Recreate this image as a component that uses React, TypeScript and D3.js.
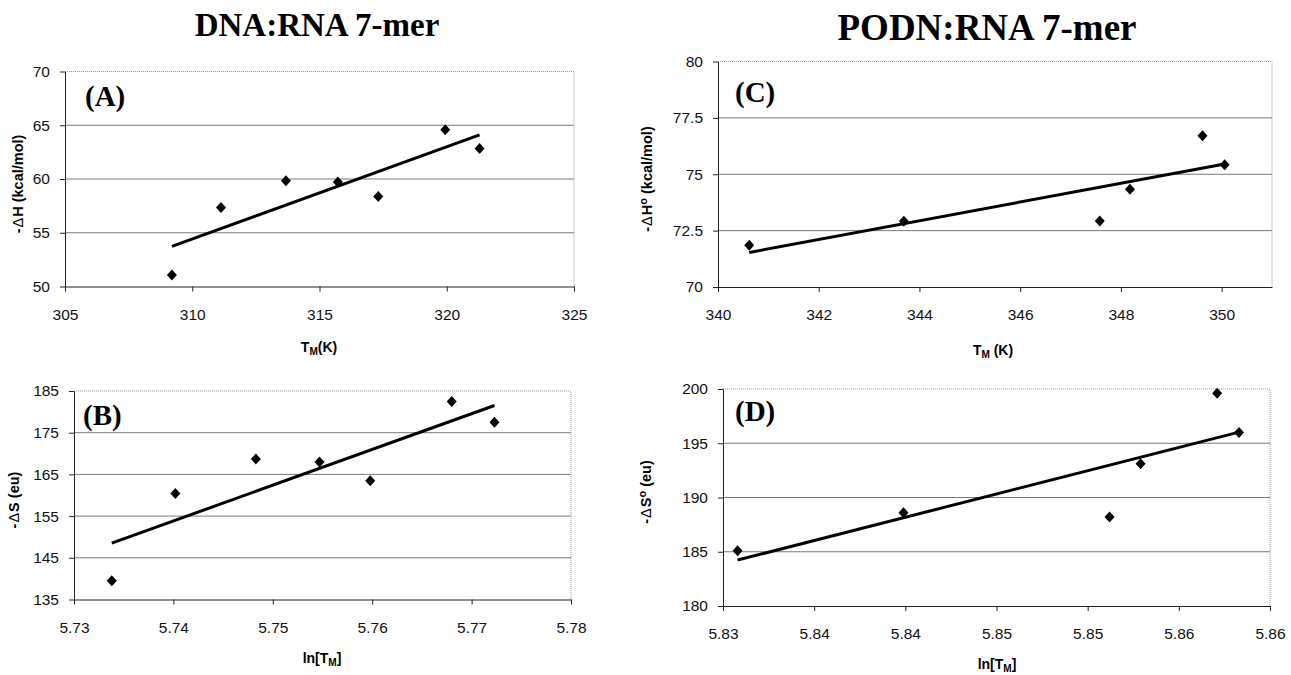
import * as d3 from 'd3';
import { useEffect, useRef } from 'react';

// DNA:RNA 7-mer
const dnaTm = [309.2, 311.13, 313.68, 315.72, 317.31, 319.94, 321.29];
const dnaDH = [51.06, 57.35, 59.83, 59.71, 58.37, 64.58, 62.84];
const dnaLnTm = [5.7338, 5.7402, 5.7483, 5.7547, 5.7598, 5.768, 5.7723];
const dnaDS = [139.5, 160.4, 168.7, 168.0, 163.5, 182.5, 177.5];

// PODN:RNA 7-mer
const podnTm = [340.62, 343.69, 347.58, 348.18, 349.62, 350.06];
const podnDH = [71.85, 72.92, 72.93, 74.34, 76.71, 75.42];
const podnLnTm = [5.8308, 5.8399, 5.8512, 5.8529, 5.8571, 5.8583];
const podnDS = [185.1, 188.6, 188.2, 193.1, 199.6, 196.0];

// axis ticks
const ticksAx = [305, 310, 315, 320, 325];
const ticksAy = [50, 55, 60, 65, 70];
const ticksBx = [5.73, 5.74, 5.75, 5.76, 5.77, 5.78];
const ticksBy = [135, 145, 155, 165, 175, 185];
const ticksCx = [340, 342, 344, 346, 348, 350];
const ticksCy = [70, 72.5, 75, 77.5, 80];
const ticksDx = [5.83, 5.835, 5.84, 5.845, 5.85, 5.855, 5.86];
const labelsDx = ['5.83', '5.84', '5.84', '5.85', '5.85', '5.86', '5.86'];
const ticksDy = [180, 185, 190, 195, 200];

const sans = 'Liberation Sans, Arial, sans-serif';
const serif = 'Liberation Serif, Times New Roman, serif';

// least squares trendline, like Excel's linear trendline
function fit(xs: number[], ys: number[]) {
    const mx = d3.mean(xs)!;
    const my = d3.mean(ys)!;
    const sxy = d3.sum(xs, (x, i) => (x - mx) * (ys[i] - my));
    const sxx = d3.sum(xs, x => (x - mx) * (x - mx));
    const b = sxy / sxx;
    return (x: number) => my + b * (x - mx);
}

function drawPanel(svg: any, p: any) {
    const x = d3.scaleLinear().domain(p.xDomain).range([p.left, p.right]);
    const y = d3.scaleLinear().domain(p.yDomain).range([p.bottom, p.top]);
    const g = svg.append('g');

    // gridlines
    g.selectAll('line.grid')
        .data(p.yTicks.slice(1, -1))
        .join('line')
        .attr('x1', p.left).attr('x2', p.right)
        .attr('y1', (d: number) => y(d)).attr('y2', (d: number) => y(d))
        .attr('stroke', '#7a7a7a').attr('stroke-width', 1);

    // plot area border (dotted)
    g.append('path')
        .attr('d', `M${p.left},${p.top}H${p.right}V${p.bottom}`)
        .attr('fill', 'none')
        .attr('stroke', '#9a9a9a')
        .attr('stroke-dasharray', '1,1');

    const yAxis = d3.axisLeft(y).tickValues(p.yTicks).tickSize(5).tickSizeOuter(0).tickPadding(10)
        .tickFormat((d: any) => String(d));
    g.append('g').attr('transform', `translate(${p.left},0)`).call(yAxis)
        .call((s: any) => s.selectAll('text').attr('font-family', sans).attr('font-size', 15.5).attr('fill', '#111'))
        .call((s: any) => s.selectAll('line,path').attr('stroke', '#222'));

    const xAxis = d3.axisBottom(x).tickValues(p.xTicks).tickSize(5).tickSizeOuter(0).tickPadding(17)
        .tickFormat((d: any, i: number) => p.xLabels ? p.xLabels[i] : String(d));
    g.append('g').attr('transform', `translate(0,${p.bottom})`).call(xAxis)
        .call((s: any) => s.selectAll('text').attr('font-family', sans).attr('font-size', 15.5).attr('fill', '#111'))
        .call((s: any) => s.selectAll('line,path').attr('stroke', '#222'));

    // trendline
    const f = fit(p.xs, p.ys);
    const x0 = d3.min(p.xs) as number;
    const x1 = d3.max(p.xs) as number;
    g.append('line')
        .attr('x1', x(x0)).attr('y1', y(f(x0)))
        .attr('x2', x(x1)).attr('y2', y(f(x1)))
        .attr('stroke', '#000').attr('stroke-width', 3);

    // diamond markers
    g.selectAll('path.pt')
        .data(p.xs.map((v: number, i: number) => [v, p.ys[i]]))
        .join('path')
        .attr('class', 'pt')
        .attr('d', 'M0,-5.5L5,0L0,5.5L-5,0Z')
        .attr('transform', (d: number[]) => `translate(${x(d[0])},${y(d[1])})`)
        .attr('fill', '#000');

    // panel letter
    g.append('text')
        .attr('x', p.tagX).attr('y', p.tagY)
        .attr('font-family', serif).attr('font-weight', 700).attr('font-size', 29)
        .text(p.tag);

    // y title
    const yt = g.append('text')
        .attr('transform', `translate(${p.yTitleX},${p.yTitleY}) rotate(-90)`)
        .attr('text-anchor', 'middle')
        .attr('font-family', sans).attr('font-weight', 700).attr('font-size', 14.5);
    yt.append('tspan').text('-');
    yt.append('tspan').attr('font-weight', 400).attr('dx', 1).text('\u0394');
    yt.append('tspan').attr('dx', 1).text(p.yQty);
    if (p.degree) yt.append('tspan').attr('font-size', 11).attr('dy', -5).text('o');
    yt.append('tspan').attr('dy', p.degree ? 5 : 0).text(` ${p.yUnit}`);

    // x title
    const xt = g.append('text')
        .attr('x', p.xTitleX).attr('y', p.xTitleY)
        .attr('text-anchor', 'middle')
        .attr('font-family', sans).attr('font-weight', 700).attr('font-size', 14);
    xt.append('tspan').text(p.xPre);
    xt.append('tspan').attr('font-size', 10).attr('dy', 3).text('M');
    xt.append('tspan').attr('dy', -3).text(p.xPost);
}

export default function App() {
    const ref = useRef<HTMLDivElement>(null);

    useEffect(() => {
        const width = 1291;
        const height = 675;
        const svg = d3.create('svg')
            .attr('width', width)
            .attr('height', height)
            .style('position', 'absolute')
            .style('left', '0px')
            .style('top', '0px')
            .style('background', '#fff');

        svg.append('text')
            .attr('x', 317).attr('y', 36)
            .attr('text-anchor', 'middle')
            .attr('font-family', serif).attr('font-weight', 700).attr('font-size', 33)
            .text('DNA:RNA 7-mer');
        svg.append('text')
            .attr('x', 987).attr('y', 40)
            .attr('text-anchor', 'middle')
            .attr('font-family', serif).attr('font-weight', 700).attr('font-size', 37)
            .text('PODN:RNA 7-mer');

        drawPanel(svg, {
            xs: dnaTm, ys: dnaDH, xDomain: [305, 325], yDomain: [50, 70],
            xTicks: ticksAx, yTicks: ticksAy,
            left: 65, right: 574, top: 71.5, bottom: 286.5,
            tag: '(A)', tagX: 85, tagY: 106,
            yQty: 'H', yUnit: '(kcal/mol)', degree: false, yTitleX: 23, yTitleY: 184,
            xPre: 'T', xPost: '(K)', xTitleX: 319, xTitleY: 352
        });
        drawPanel(svg, {
            xs: dnaLnTm, ys: dnaDS, xDomain: [5.73, 5.78], yDomain: [135, 185],
            xTicks: ticksBx, yTicks: ticksBy,
            left: 74, right: 571, top: 391, bottom: 599.5,
            tag: '(B)', tagX: 83, tagY: 425,
            yQty: 'S', yUnit: '(eu)', degree: false, yTitleX: 19, yTitleY: 500,
            xPre: 'ln[T', xPost: ']', xTitleX: 322, xTitleY: 663
        });
        drawPanel(svg, {
            xs: podnTm, ys: podnDH, xDomain: [340, 351], yDomain: [70, 80],
            xTicks: ticksCx, yTicks: ticksCy,
            left: 718, right: 1272, top: 61.5, bottom: 287,
            tag: '(C)', tagX: 735, tagY: 102,
            yQty: 'H', yUnit: '(kcal/mol)', degree: true, yTitleX: 652, yTitleY: 179,
            xPre: 'T', xPost: ' (K)', xTitleX: 993, xTitleY: 355
        });
        drawPanel(svg, {
            xs: podnLnTm, ys: podnDS, xDomain: [5.83, 5.86], yDomain: [180, 200],
            xTicks: ticksDx, xLabels: labelsDx, yTicks: ticksDy,
            left: 723, right: 1270, top: 389, bottom: 606,
            tag: '(D)', tagX: 735, tagY: 421,
            yQty: 'S', yUnit: '(eu)', degree: true, yTitleX: 651, yTitleY: 492,
            xPre: 'ln[T', xPost: ']', xTitleX: 997, xTitleY: 669
        });

        ref.current!.append(svg.node()!);
        return () => { svg.remove(); };
    }, []);

    return <div ref={ref}></div>;
}
